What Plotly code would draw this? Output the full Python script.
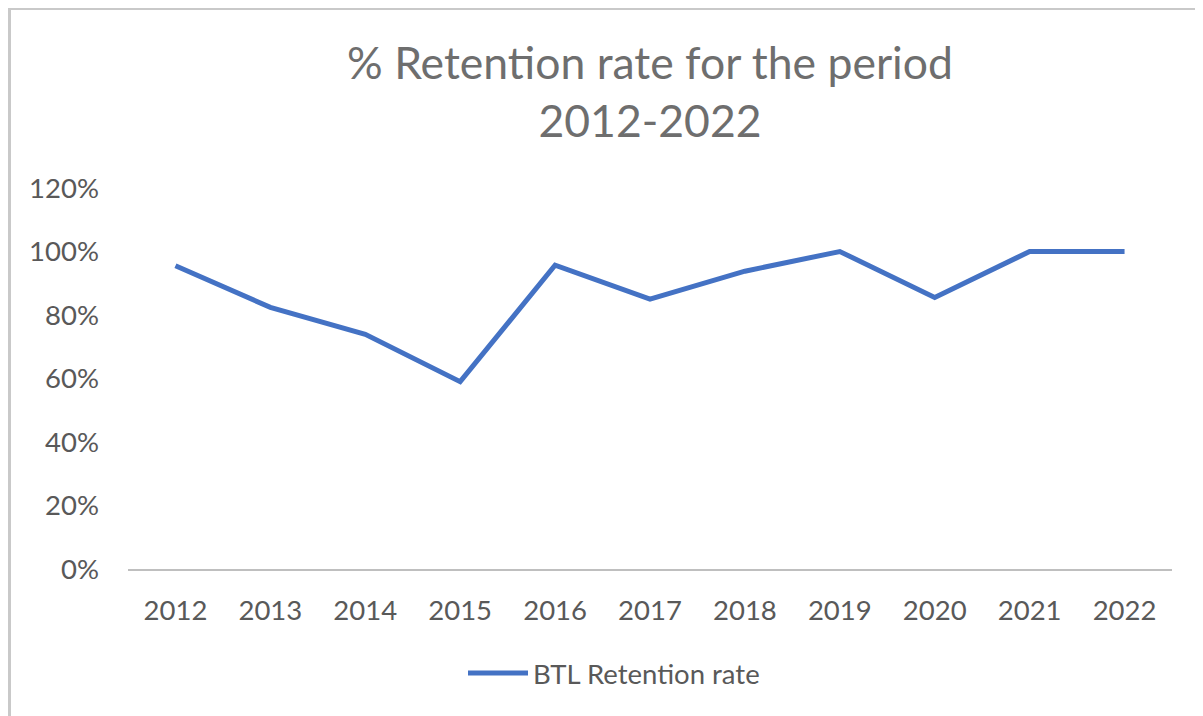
import plotly.graph_objects as go

years = ["2012", "2013", "2014", "2015", "2016", "2017", "2018", "2019", "2020", "2021", "2022"]
retention = [0.955, 0.824, 0.739, 0.590, 0.957, 0.850, 0.938, 1.0, 0.855, 1.0, 1.0]
series_name = "BTL Retention rate"
title_lines = ["% Retention rate for the period", "2012-2022"]
y_ticks = [0, 0.2, 0.4, 0.6, 0.8, 1.0, 1.2]

FONT = "Lato, 'Open Sans', sans-serif"
GREY = "#595959"
TITLE_GREY = "#6E6E6E"

fig = go.Figure()
fig.add_trace(go.Scatter(
    x=years, y=retention, mode="lines", name=series_name,
    line=dict(color="#4472C4", width=5),
))

# page body has an 8px margin; screen pixel P -> figure pixel P - 8
OFF = 8
W, H = 1203 - OFF, 716 - OFF
ml = 128 - OFF
mt = 188 - OFF
mr = W - (1172 - OFF)
mb = H - (569 - OFF)
pw, ph = W - ml - mr, H - mt - mb

def px2x(px):
    return (px - OFF - ml) / pw

def px2y(py):
    return (H - mb - (py - OFF)) / ph

fig.update_layout(
    width=W, height=H,
    margin=dict(l=ml, r=mr, t=mt, b=mb, pad=0),
    paper_bgcolor="white", plot_bgcolor="white",
    font=dict(family=FONT, color=GREY, size=27),
    title=dict(
        text="<br>".join(title_lines),
        x=0.5, xanchor="center", xref="paper",
        y=1 - 71 / H, yanchor="middle",
        font=dict(family=FONT, size=44.5, color=TITLE_GREY),
    ),
    showlegend=True,
    legend=dict(
        orientation="h", x=px2x(614), xanchor="center",
        y=px2y(673), yanchor="middle",
        font=dict(family=FONT, size=27.5, color=GREY),
        itemwidth=60,
    ),
    xaxis=dict(
        type="category", showgrid=False, zeroline=False,
        showline=True, linecolor="#BFBFBF", linewidth=2,
        ticks="", ticklabelstandoff=16,
        tickfont=dict(family=FONT, size=27.5, color=GREY),
        range=[-0.5, 10.5],
    ),
    yaxis=dict(
        range=[0, 1.2], tickvals=y_ticks, tickformat=".0%",
        showgrid=False, zeroline=False, showline=False,
        ticks="", ticklabelstandoff=28,
        tickfont=dict(family=FONT, size=27.5, color=GREY),
    ),
    shapes=[dict(
        type="rect", xref="paper", yref="paper",
        x0=px2x(9.5), x1=px2x(1225), y0=px2y(740), y1=px2y(8.5),
        line=dict(color="#C9C9C9", width=3), fillcolor="rgba(0,0,0,0)",
        layer="below",
    )],
)

fig.write_html("out.html")
